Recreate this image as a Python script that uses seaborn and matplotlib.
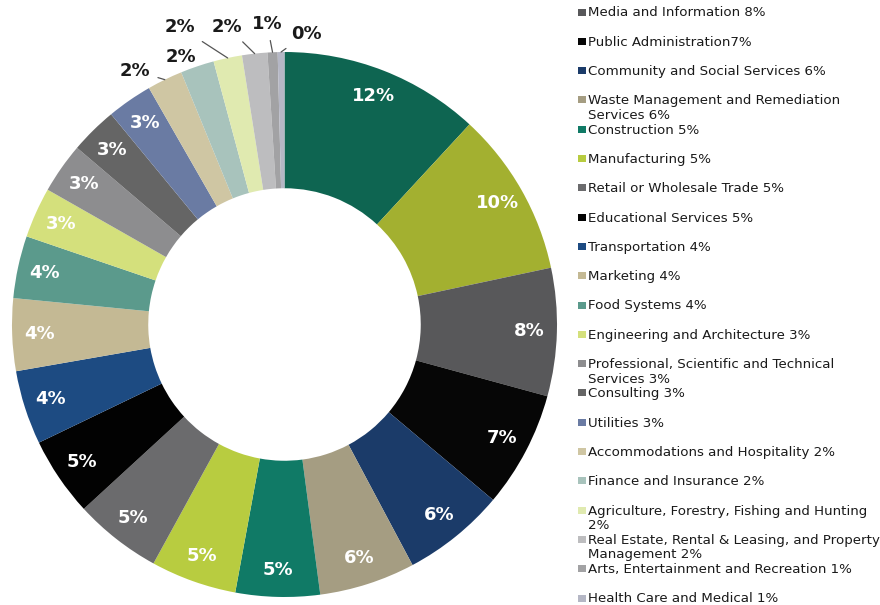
import matplotlib
matplotlib.use("Agg")
import matplotlib.pyplot as plt
from matplotlib.patches import Rectangle
import seaborn as sns
import numpy as np

# ---------------- data ----------------
segment_values = [11.9, 9.8, 7.6, 6.9, 6.1, 5.7, 5.0, 5.1, 5.2, 4.7, 4.4, 4.3,
                  3.7, 3.0, 3.0, 2.8, 2.7, 2.1, 2.0, 1.7, 1.5, 0.6, 0.4]
segment_labels = ["12%", "10%", "8%", "7%", "6%", "6%", "5%", "5%", "5%", "5%",
                  "4%", "4%", "4%", "3%", "3%", "3%", "3%", "2%", "2%", "2%",
                  "2%", "1%", "0%"]
segment_colors = ["#0e6551", "#a3b030", "#58585a", "#060606", "#1b3b69",
                  "#a59d82", "#107a66", "#b8cc40", "#6b6b6d", "#020202",
                  "#1d4b82", "#c4b994", "#5b9a8c", "#d4e07c", "#8d8d8f",
                  "#656565", "#6a7ba3", "#cfc6a3", "#a8c3bc", "#e0eab0",
                  "#bdbdbf", "#a2a2a4", "#b5b7c5"]
legend_labels = [
    "Media and Information 8%",
    "Public Administration7%",
    "Community and Social Services 6%",
    "Waste Management and Remediation\nServices 6%",
    "Construction 5%",
    "Manufacturing 5%",
    "Retail or Wholesale Trade 5%",
    "Educational Services 5%",
    "Transportation 4%",
    "Marketing 4%",
    "Food Systems 4%",
    "Engineering and Architecture 3%",
    "Professional, Scientific and Technical\nServices 3%",
    "Consulting 3%",
    "Utilities 3%",
    "Accommodations and Hospitality 2%",
    "Finance and Insurance 2%",
    "Agriculture, Forestry, Fishing and Hunting\n2%",
    "Real Estate, Rental & Leasing, and Property\nManagement 2%",
    "Arts, Entertainment and Recreation 1%",
    "Health Care and Medical 1%",
]
legend_first_segment = 2   # legend entries above are cut off in the source

# outside label placement: index -> (radius, angle shift in degrees, leader line)
outside_labels = {17: (1.08, 4.4, True), 18: (1.052, 2.5, False),
                  19: (1.156, 7.3, True), 20: (1.113, 4.6, True),
                  21: (1.104, 0.8, True), 22: (1.07, -5.0, True)}

# ---------------- figure ----------------
sns.set_theme(style="white")
plt.rcParams['font.family'] = ['DejaVu Sans']

W, H = 880, 605
fig = plt.figure(figsize=(W / 100, H / 100), dpi=100)
fig.patch.set_facecolor("white")

cx, cy, R = 284.5, 324.5, 272.5
ax = fig.add_axes([(cx - R) / W, (H - cy - R) / H, 2 * R / W, 2 * R / H])
wedges, _ = ax.pie(segment_values, colors=segment_colors, startangle=90,
                   counterclock=False, radius=1.0,
                   wedgeprops=dict(width=0.5, linewidth=0))
ax.set_xlim(-1, 1)
ax.set_ylim(-1, 1)
ax.set_aspect("equal")
ax.axis("off")

for i, w in enumerate(wedges):
    mid = np.deg2rad((w.theta1 + w.theta2) / 2.0)
    lab = segment_labels[i]
    if i in outside_labels:
        r, dang, leader = outside_labels[i]
        ang = mid + np.deg2rad(dang)
        tx, ty = r * np.cos(ang), r * np.sin(ang)
        kw = {}
        if leader:
            kw["arrowprops"] = dict(arrowstyle="-", color="#555555", lw=0.9,
                                    shrinkA=3, shrinkB=0)
        ax.annotate(lab, xy=(np.cos(mid), np.sin(mid)), xytext=(tx, ty),
                    ha="center", va="center", fontsize=13, fontweight="bold",
                    color="#1a1a1a", annotation_clip=False, **kw)
    else:
        ax.text(0.9 * np.cos(mid), 0.9 * np.sin(mid), lab, ha="center",
                va="center", fontsize=13, fontweight="bold", color="white")

# ---------------- legend ----------------
for j, lab in enumerate(legend_labels):
    yc = 12 + 29.3 * j
    col = segment_colors[legend_first_segment + j]
    fig.patches.append(Rectangle((578 / W, 1 - (yc + 3.5) / H), 8 / W, 7 / H,
                                 transform=fig.transFigure, facecolor=col,
                                 edgecolor="none"))
    fig.text(588 / W, 1 - (yc - 5.5) / H, lab, ha="left", va="top",
             fontsize=9.6, color="#1a1a1a", linespacing=1.15)

fig.savefig("out.png", dpi=100, facecolor="white")
